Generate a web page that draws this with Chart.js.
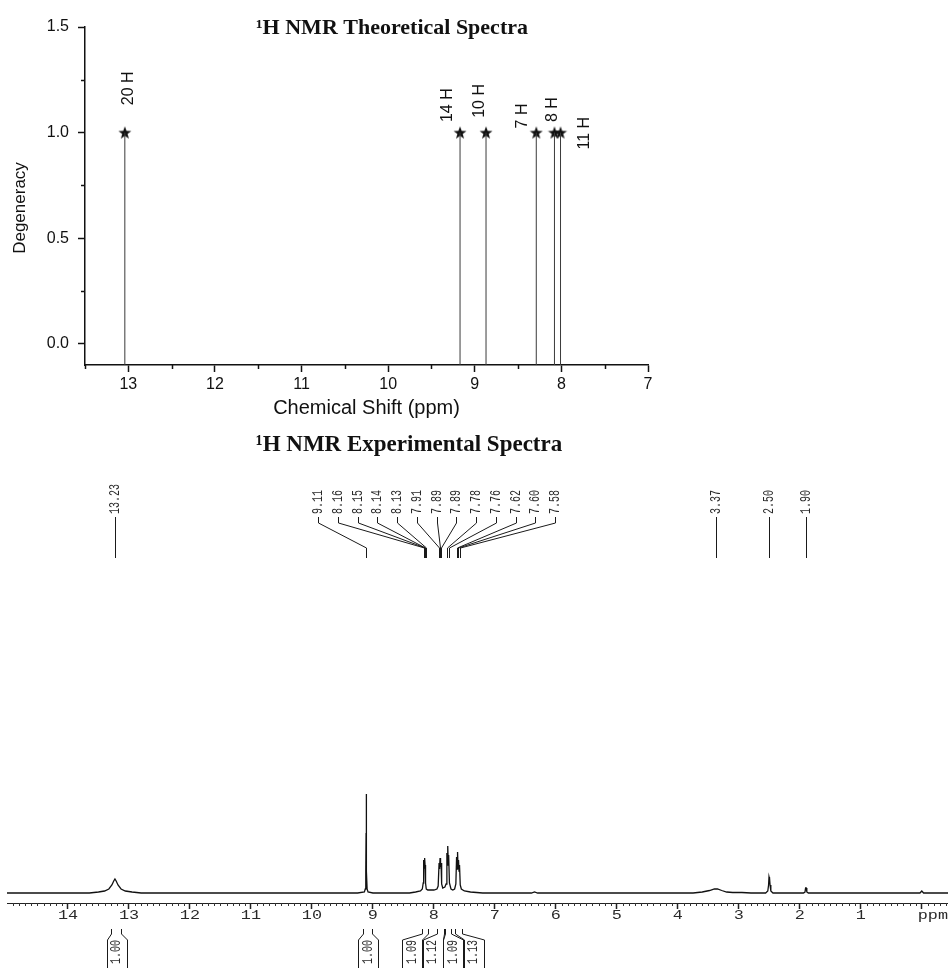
<!DOCTYPE html>
<html><head><meta charset="utf-8">
<script src="https://cdn.jsdelivr.net/npm/chart.js@4.4.1/dist/chart.umd.min.js"></script>
<style>
html,body{margin:0;padding:0;background:#fff;}
#wrap{position:relative;width:948px;height:968px;overflow:hidden;background:#fff;}
#top{position:absolute;left:0;top:0;}
#bot{position:absolute;left:0;top:420px;}
</style></head><body>
<div id="wrap"><canvas id="top" width="948" height="420"></canvas><canvas id="bot" width="948" height="548"></canvas></div>
<script>
// ---------------- Theoretical spectrum (top) ----------------
const theoShift = [13.04, 9.17, 8.87, 8.29, 8.08, 8.01];
const theoDegeneracy = [1, 1, 1, 1, 1, 1];
const theoLabels = ['20 H', '14 H', '10 H', '7 H', '8 H', '11 H'];
const theoXTicks = [13, 12, 11, 10, 9, 8, 7];
const theoYTicks = [0, 0.5, 1.0, 1.5];
const theoYTickLabels = ['0.0', '0.5', '1.0', '1.5'];
const theoXMinor = [13.5, 12.5, 11.5, 10.5, 9.5, 8.5, 7.5];
const theoYMinor = [0.25, 0.75, 1.25];

// ---------------- Experimental spectrum (bottom) ----------------
const expShift = [15.00, 13.65, 13.50, 13.40, 13.33, 13.28, 13.25, 13.23, 13.21, 13.18, 13.13, 13.06, 12.95, 12.80,
  9.25, 9.14, 9.125, 9.117, 9.112, 9.110, 9.108, 9.103, 9.095, 9.08, 9.00,
  8.40, 8.30, 8.22, 8.190, 8.175, 8.168, 8.160, 8.152, 8.145, 8.137, 8.125, 8.10, 8.00,
  7.95, 7.930, 7.915, 7.907, 7.899, 7.891, 7.883, 7.873, 7.855, 7.820,
  7.800, 7.787, 7.780, 7.773, 7.766, 7.758, 7.745, 7.720, 7.690,
  7.660, 7.640, 7.628, 7.620, 7.612, 7.604, 7.596, 7.588, 7.580, 7.568, 7.550, 7.500, 7.40, 7.20,
  6.40, 6.35, 6.30,
  3.75, 3.60, 3.48, 3.40, 3.35, 3.28, 3.20, 3.10, 2.95, 2.80,
  2.56, 2.525, 2.512, 2.505, 2.500, 2.495, 2.488, 2.475, 2.44,
  1.94, 1.915, 1.905, 1.895, 1.885, 1.86,
  0.03, 0.00, -0.03, -0.43];
const expIntensity = [0, 0, 1, 2, 4, 8, 12, 14, 12, 8, 4, 2, 1, 0,
  0, 1, 4, 22, 60, 99, 60, 22, 4, 1, 0,
  0, 1, 2, 4, 10, 33, 25, 35, 28, 10, 4, 3, 3,
  4, 7, 30, 24, 35, 26, 30, 9, 5, 6,
  9, 40, 28, 47, 34, 38, 10, 4, 3,
  4, 9, 36, 24, 41, 25, 33, 22, 28, 8, 4, 2, 1, 0,
  0, 1, 0,
  0, 1, 2.5, 4, 4, 2.5, 1, 0.5, 0.5, 0,
  0, 2, 8, 16, 14, 16, 8, 2, 0,
  0, 1, 5, 5, 1, 0,
  0, 2, 0, 0];
const expXTicks = [14, 13, 12, 11, 10, 9, 8, 7, 6, 5, 4, 3, 2, 1, 0];
const expXTickLabels = ['14', '13', '12', '11', '10', '9', '8', '7', '6', '5', '4', '3', '2', '1', 'ppm'];
const peakLabels = ['13.23', '9.11', '8.16', '8.15', '8.14', '8.13', '7.91', '7.89', '7.89', '7.78', '7.76', '7.62', '7.60', '7.58', '3.37', '2.50', '1.90'];
const peakShift = [13.23, 9.11, 8.16, 8.15, 8.14, 8.13, 7.91, 7.895, 7.885, 7.78, 7.76, 7.62, 7.60, 7.58, 3.37, 2.50, 1.90];
const integralLabels = ['1.00', '1.00', '1.09', '1.12', '1.09', '1.13'];
const integralFrom = [13.30, 9.16, 8.20, 7.95, 7.82, 7.66];
const integralTo = [13.13, 9.02, 8.10, 7.84, 7.72, 7.54];
const expMinor = [];
for (let k = -4; k <= 150; k++) { if (k % 10 !== 0) expMinor.push(k / 10); }

// ---------------- helpers / plugins ----------------
const starImg = document.createElement('canvas');
starImg.width = 14; starImg.height = 14;
(function () {
  const c = starImg.getContext('2d');
  c.fillStyle = '#111';
  c.beginPath();
  for (let k = 0; k < 10; k++) {
    const r = k % 2 ? 2.8 : 6.8;
    const a = -Math.PI / 2 + k * Math.PI / 5;
    const px = 7 + r * Math.cos(a), py = 7.5 + r * Math.sin(a);
    if (k) c.lineTo(px, py); else c.moveTo(px, py);
  }
  c.closePath(); c.fill();
})();

const minorTicks = {
  id: 'minorTicks',
  afterDraw(chart, args, o) {
    const ctx = chart.ctx;
    ctx.save();
    ctx.strokeStyle = o.color; ctx.lineWidth = o.width;
    o.axes.forEach(a => {
      const sc = chart.scales[a.id];
      a.values.forEach(v => {
        const p = Math.round(sc.getPixelForValue(v)) + 0.5;
        ctx.beginPath();
        if (sc.isHorizontal()) { ctx.moveTo(p, sc.top); ctx.lineTo(p, sc.top + a.length); }
        else { ctx.moveTo(sc.right, p); ctx.lineTo(sc.right - a.length, p); }
        ctx.stroke();
      });
    });
    ctx.restore();
  }
};

const figText = {
  id: 'figText',
  afterDraw(chart, args, o) {
    const ctx = chart.ctx;
    ctx.save();
    o.items.forEach(it => {
      ctx.save();
      ctx.font = it.font; ctx.fillStyle = it.color; ctx.textAlign = 'center'; ctx.textBaseline = 'middle';
      ctx.translate(it.x, it.y);
      if (it.rotate) ctx.rotate(it.rotate);
      ctx.fillText(it.text, 0, 0);
      ctx.restore();
    });
    ctx.restore();
  }
};

const stemLabels = {
  id: 'stemLabels',
  afterDatasetsDraw(chart, args, o) {
    const ctx = chart.ctx, xs = chart.scales.x, ys = chart.scales.y;
    ctx.save();
    ctx.font = o.font; ctx.fillStyle = o.color; ctx.textAlign = 'left'; ctx.textBaseline = 'middle';
    theoLabels.forEach((t, i) => {
      const a = o.anchors[i];
      ctx.save();
      ctx.translate(xs.getPixelForValue(a.x), ys.getPixelForValue(a.y));
      ctx.rotate(-Math.PI / 2);
      ctx.fillText(t, 0, 0);
      ctx.restore();
    });
    ctx.restore();
  }
};

function stretchedText(ctx, text, x, y, rotated, s, align) {
  ctx.save();
  ctx.translate(x, y);
  if (rotated) { ctx.rotate(-Math.PI / 2); ctx.scale(1, s); }
  else { ctx.scale(s, 1); }
  ctx.textAlign = align; ctx.textBaseline = 'middle';
  ctx.fillText(text, 0, 0);
  ctx.restore();
}

const nmrDecor = {
  id: 'nmrDecor',
  afterDraw(chart, args, o) {
    const ctx = chart.ctx, xs = chart.scales.x;
    ctx.save();
    ctx.fillStyle = '#2a2a2a'; ctx.strokeStyle = '#1a1a1a'; ctx.lineWidth = 1;
    // axis tick labels
    ctx.font = o.tickFont;
    xs.ticks.forEach((tk, i) => {
      const p = xs.getPixelForValue(tk.value);
      const lab = expXTickLabels[i];
      if (lab === 'ppm') stretchedText(ctx, lab, p - 4, o.tickY, false, o.stretch, 'left');
      else stretchedText(ctx, lab, p, o.tickY, false, o.stretch, 'center');
    });
    // peak labels with leader lines
    ctx.font = o.labelFont;
    const gStart = xs.getPixelForValue(o.groupAnchor);
    peakLabels.forEach((t, i) => {
      const px = Math.round(xs.getPixelForValue(peakShift[i])) + 0.5;
      const inG = i >= o.groupFirst && i <= o.groupLast;
      const lx = inG ? Math.round(gStart + (i - o.groupFirst) * o.groupStep) + 0.5 : px;
      stretchedText(ctx, t, lx, o.textBottom, true, o.stretch, 'left');
      ctx.beginPath();
      if (inG) {
        ctx.moveTo(lx, o.lineTop); ctx.lineTo(lx, o.bendTop);
        ctx.lineTo(px, o.bendBottom); ctx.lineTo(px, o.lineBottom);
      } else {
        ctx.moveTo(px, o.lineTop); ctx.lineTo(px, o.lineBottom);
      }
      ctx.stroke();
    });
    // integrals
    let gSum = 0, gN = 0;
    integralLabels.forEach((t, i) => {
      if (i >= o.intFirst) { gSum += (xs.getPixelForValue(integralFrom[i]) + xs.getPixelForValue(integralTo[i])) / 2; gN++; }
    });
    const gMean = gSum / gN;
    integralLabels.forEach((t, i) => {
      const a = Math.round(xs.getPixelForValue(integralFrom[i])) + 0.5;
      const b = Math.round(xs.getPixelForValue(integralTo[i])) + 0.5;
      let c = (a + b) / 2;
      if (i >= o.intFirst) c = gMean + (i - o.intFirst - (gN - 1) / 2) * o.intStep;
      const l = Math.round(c - o.boxHalf) + 0.5, r = Math.round(c + o.boxHalf) + 0.5;
      ctx.beginPath();
      ctx.moveTo(a, o.stubTop); ctx.lineTo(a, o.stubBottom); ctx.lineTo(l, o.knee); ctx.lineTo(l, o.boxBottom);
      ctx.moveTo(b, o.stubTop); ctx.lineTo(b, o.stubBottom); ctx.lineTo(r, o.knee); ctx.lineTo(r, o.boxBottom);
      ctx.stroke();
      stretchedText(ctx, t, c, o.intTextY, true, o.stretch, 'center');
    });
    ctx.restore();
  }
};

// ---------------- top chart ----------------
const stemData = [];
const starData = [];
theoShift.forEach((s, i) => {
  stemData.push({ x: s, y: -0.1 }, { x: s, y: theoDegeneracy[i] }, { x: s, y: null });
  starData.push({ x: s, y: theoDegeneracy[i] });
});

new Chart(document.getElementById('top'), {
  type: 'scatter',
  data: {
    datasets: [
      { data: stemData, showLine: true, spanGaps: false, borderColor: '#3a3a3a', borderWidth: 1, pointRadius: 0 },
      { data: starData, pointStyle: starImg, pointRadius: 7, showLine: false }
    ]
  },
  options: {
    responsive: false, animation: false, devicePixelRatio: 1,
    layout: { padding: { left: 0, right: 300, top: 27, bottom: 0 } },
    plugins: {
      legend: { display: false }, tooltip: { enabled: false },
      minorTicks: { color: '#111', width: 1.5, axes: [{ id: 'x', values: theoXMinor, length: 4 }, { id: 'y', values: theoYMinor, length: 4 }] },
      stemLabels: {
        font: '16px "Liberation Sans", Arial, sans-serif', color: '#111',
        anchors: [{ x: 13.0, y: 1.13 }, { x: 9.31, y: 1.05 }, { x: 8.95, y: 1.07 }, { x: 8.45, y: 1.02 }, { x: 8.10, y: 1.05 }, { x: 7.73, y: 0.92 }]
      },
      figText: { items: [
        { text: '\u00B9H NMR Theoretical Spectra', x: 392, y: 28, font: 'bold 22px "Liberation Serif", "Times New Roman", serif', color: '#111' },
        { text: 'Degeneracy', x: 20, y: 208, rotate: -Math.PI / 2, font: '17px "Liberation Sans", Arial, sans-serif', color: '#111' }
      ] }
    },
    scales: {
      x: {
        type: 'linear', min: 7, max: 13.5, reverse: true,
        afterBuildTicks: s => { s.ticks = theoXTicks.map(v => ({ value: v })); },
        afterFit: s => { s.height = 55; s.paddingLeft = 0; s.paddingRight = 0; },
        grid: { drawOnChartArea: false, drawTicks: true, tickLength: 7, tickColor: '#111', tickWidth: 1.5 },
        border: { display: true, color: '#111', width: 1.5 },
        ticks: { font: { family: '"Liberation Sans", Arial, sans-serif', size: 16 }, color: '#111', padding: 3, maxRotation: 0, autoSkip: false, callback: v => String(v) },
        title: { display: true, text: 'Chemical Shift (ppm)', font: { family: '"Liberation Sans", Arial, sans-serif', size: 20 }, color: '#111', padding: { top: 0, bottom: 0 } }
      },
      y: {
        type: 'linear', min: -0.1, max: 1.5,
        afterBuildTicks: s => { s.ticks = theoYTicks.map(v => ({ value: v })); },
        afterFit: s => { s.width = 85; s.paddingTop = 0; s.paddingBottom = 0; },
        grid: { drawOnChartArea: false, drawTicks: true, tickLength: 7, tickColor: '#111', tickWidth: 1.5 },
        border: { display: true, color: '#111', width: 1.5 },
        ticks: { font: { family: '"Liberation Sans", Arial, sans-serif', size: 16 }, color: '#111', padding: 9, callback: (v, i) => theoYTickLabels[i] },
        title: { display: false, text: 'Degeneracy' }
      }
    }
  },
  plugins: [minorTicks, stemLabels, figText]
});

// ---------------- bottom chart ----------------
new Chart(document.getElementById('bot'), {
  type: 'scatter',
  data: {
    datasets: [{ data: expShift.map((s, i) => ({ x: s, y: expIntensity[i] })), showLine: true, borderColor: '#111', borderWidth: 1.3, pointRadius: 0 }]
  },
  options: {
    responsive: false, animation: false, devicePixelRatio: 1,
    layout: { padding: { left: 7, right: 0, top: 10, bottom: 0 } },
    plugins: {
      legend: { display: false }, tooltip: { enabled: false },
      minorTicks: { color: '#333', width: 1, axes: [{ id: 'x', values: expMinor, length: 3 }] },
      figText: { items: [{ text: '\u00B9H NMR Experimental Spectra', x: 409, y: 25, font: 'bold 23px "Liberation Serif", "Times New Roman", serif', color: '#111' }] },
      nmrDecor: {
        stretch: 1.4,
        tickFont: '12px "Liberation Mono", "Courier New", monospace', tickY: 496,
        labelFont: '10px "Liberation Mono", "Courier New", monospace',
        textBottom: 94, lineTop: 97, bendTop: 103, bendBottom: 128, lineBottom: 138,
        groupFirst: 1, groupLast: 13, groupAnchor: 9.90, groupStep: 19.75,
        intFirst: 2, intStep: 20.5, boxHalf: 10,
        stubTop: 509, stubBottom: 514, knee: 520, boxBottom: 548, intTextY: 532
      }
    },
    scales: {
      x: {
        type: 'linear', min: -0.43, max: 15.0, reverse: true,
        afterBuildTicks: s => { s.ticks = expXTicks.map(v => ({ value: v })); },
        afterFit: s => { s.height = 65; s.paddingLeft = 0; s.paddingRight = 0; },
        grid: { drawOnChartArea: false, drawTicks: true, tickLength: 6, tickColor: '#222', tickWidth: 1.5 },
        border: { display: true, color: '#222', width: 1 },
        ticks: { display: false }
      },
      y: { display: false, min: -10, max: 463 }
    }
  },
  plugins: [minorTicks, figText, nmrDecor]
});
</script>
</body></html>
